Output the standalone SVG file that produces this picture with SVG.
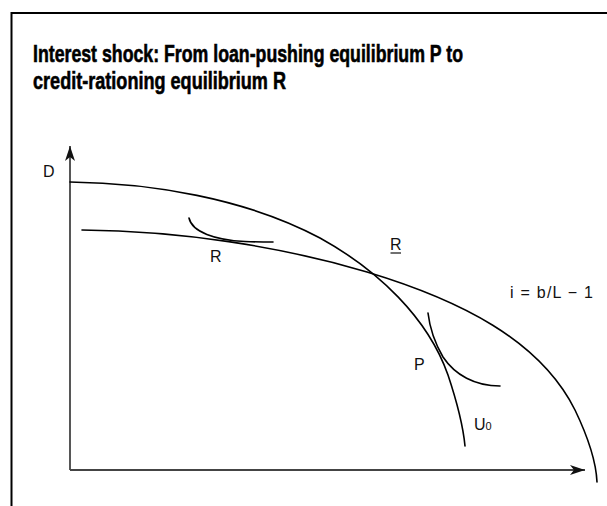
<svg xmlns="http://www.w3.org/2000/svg" width="607" height="506" viewBox="0 0 607 506">
<style>
.title{font-family:"Liberation Sans","Arial",sans-serif;font-weight:bold;font-size:24px;fill:#000;stroke:#000;stroke-width:0.6}
.lbl{font-family:"Liberation Sans","Arial",sans-serif;font-size:16px;fill:#111}
.curve{fill:none;stroke:#000;stroke-width:1.6;stroke-linecap:round}
.axis{fill:none;stroke:#444;stroke-width:1.8}
</style>
<defs>
<marker id="arr" markerWidth="16" markerHeight="12" refX="15" refY="6" orient="auto" markerUnits="userSpaceOnUse">
<path d="M0,1 L15,6 L0,11 L4,6 Z" fill="#111"/>
</marker>
</defs>
<rect x="11.5" y="13" width="700" height="600" fill="#fff" stroke="#000" stroke-width="2"/>
<g id="title">
<text class="title" x="33" y="61.5" textLength="430" lengthAdjust="spacingAndGlyphs">Interest shock: From loan-pushing equilibrium P to</text>
<text class="title" x="33" y="89" textLength="253" lengthAdjust="spacingAndGlyphs">credit-rationing equilibrium R</text>
</g>
<g id="connectors">
<path id="y-axis" class="axis" d="M70,470 L70,146" marker-end="url(#arr)"/>
<path id="x-axis" class="axis" d="M70,470 L585,470" marker-end="url(#arr)"/>
</g>
<g id="U0-curve">
<path class="curve" d="M70,182 C150,183 245,198 320,238 C378,270 428,318 448,375 C458,405 463,425 465,446"/>
</g>
<g id="budget-curve">
<path class="curve" d="M82,230 C180,231 280,246 367,272 C460,300 540,340 575,410 C588,437 596,460 597,482"/>
</g>
<g id="R-indifference">
<path class="curve" d="M189,218 C192,232 215,240 245,241.5 C258,242 266,242 273,242"/>
</g>
<g id="P-indifference">
<path class="curve" d="M428,313 C430,330 436,345 443,357 C455,375 475,386 500,386"/>
</g>
<g id="labels">
<text class="lbl" x="43" y="177">D</text>
<text class="lbl" x="210" y="262">R</text>
<text class="lbl" x="390" y="250">R</text>
<line x1="390.5" y1="253" x2="401" y2="253" stroke="#111" stroke-width="1.2"/>
<text class="lbl" x="510" y="298" textLength="83" lengthAdjust="spacing">i = b/L − 1</text>
<text class="lbl" x="414" y="370">P</text>
<text class="lbl" x="474" y="430">U<tspan font-size="11">0</tspan></text>
</g>
</svg>
